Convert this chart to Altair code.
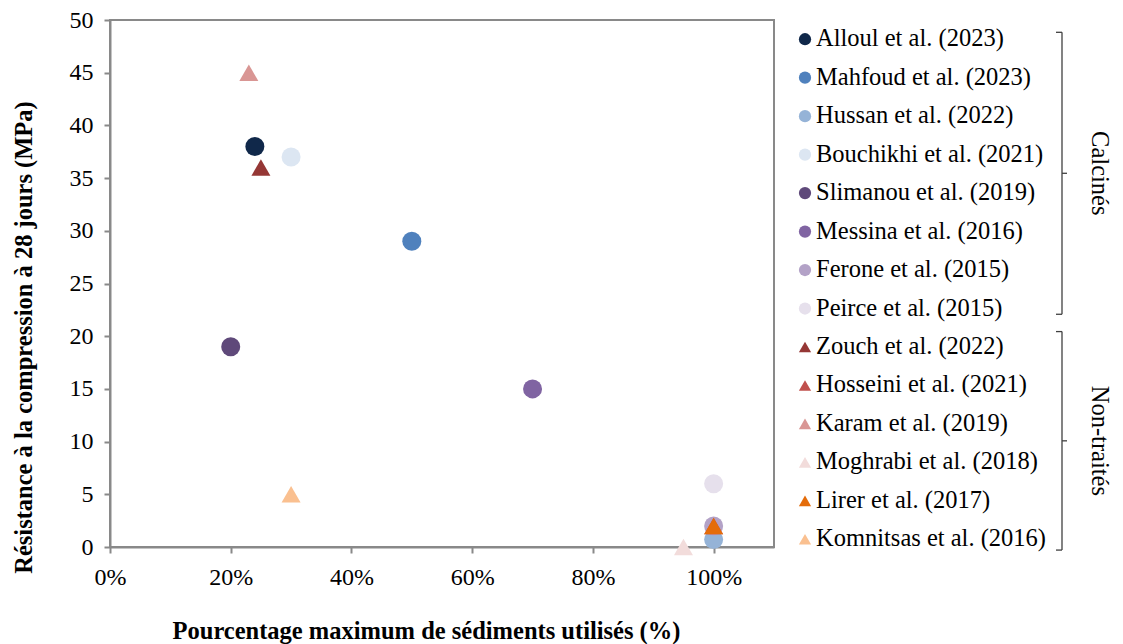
import altair as alt
import pandas as pd

studies = ["Alloul et al. (2023)", "Mahfoud et al. (2023)", "Hussan et al. (2022)",
           "Bouchikhi et al. (2021)", "Slimanou et al. (2019)", "Messina et al. (2016)",
           "Ferone et al. (2015)", "Peirce et al. (2015)", "Zouch et al. (2022)",
           "Hosseini et al. (2021)", "Karam et al. (2019)", "Moghrabi et al. (2018)",
           "Lirer et al. (2017)", "Komnitsas et al. (2016)"]
pct = [0.24, 0.50, 1.00, 0.30, 0.20, 0.70, 1.00, 1.00, 0.25, 1.00, 0.23, 0.95, 1.00, 0.30]
mpa = [38, 29, 0.7, 37, 19, 15, 2, 6, 36, 2, 45, 0, 2, 5]
groups = ["Calcinés"] * 8 + ["Non-traités"] * 6
colors = ["#10284A", "#4F81BD", "#95B3D7", "#DCE6F2", "#5F497A", "#8064A2", "#B3A2C7",
          "#E6E0EC", "#953735", "#C0504D", "#D99694", "#F2DCDB", "#E46C0A", "#FAC090"]
shapes = ["circle" if g == "Calcinés" else "triangle-up" for g in groups]

df = pd.DataFrame({"study": studies, "pct": pct, "mpa": mpa, "group": groups,
                   "row": list(range(len(studies)))})

FONT = "Liberation Serif"
GRAY = "#898989"

color_scale = alt.Scale(domain=studies, range=colors)
shape_scale = alt.Scale(domain=studies, range=shapes)

main = alt.Chart(df).mark_point(filled=True, opacity=1, size=361).encode(
    x=alt.X("pct:Q", scale=alt.Scale(domain=[0, 1.1], nice=False),
            axis=alt.Axis(values=[0, 0.2, 0.4, 0.6, 0.8, 1.0], format=".0%",
                          title="Pourcentage maximum de sédiments utilisés (%)",
                          labelFlush=False, labelPadding=12, titlePadding=30,
                          titleX=316)),
    y=alt.Y("mpa:Q", scale=alt.Scale(domain=[0, 50], nice=False),
            axis=alt.Axis(values=list(range(0, 51, 5)),
                          title="Résistance à la compression à 28 jours (MPa)",
                          labelFlush=False, labelPadding=11, titlePadding=33,
                          titleY=317)),
    color=alt.Color("study:N", scale=color_scale, legend=None),
    shape=alt.Shape("study:N", scale=shape_scale, legend=None),
    order=alt.Order("row:Q"),
).properties(width=664, height=527)

# legend panel
ly = alt.Scale(domain=[-0.5, 13.2], reverse=True, nice=False, zero=False)
lx = alt.Scale(domain=[0, 30], nice=False, zero=False)

leg_sym = alt.Chart(df).mark_point(filled=True, opacity=1, size=150).encode(
    x=alt.datum(1.0, scale=lx, axis=None),
    y=alt.Y("row:Q", scale=ly, axis=None),
    color=alt.Color("study:N", scale=color_scale, legend=None),
    shape=alt.Shape("study:N", scale=shape_scale, legend=None),
)
leg_txt = alt.Chart(df).mark_text(align="left", baseline="middle", font=FONT,
                                  fontSize=24.5, color="#000000", dx=11).encode(
    x=alt.datum(1.0, scale=lx, axis=None),
    y=alt.Y("row:Q", scale=ly, axis=None),
    text="study:N",
)

group_names = ["Calcinés", "Non-traités"]
g_start = [df[df.group == g].row.min() for g in group_names]
g_end = [df[df.group == g].row.max() for g in group_names]
br = pd.DataFrame({"group": group_names,
                   "top": [g_start[0] - 0.18, g_start[1] - 0.4],
                   "bot": [g_end[0] + 0.15, g_end[1] + 0.28]})
br["mid"] = (br["top"] + br["bot"]) / 2

vert = alt.Chart(br).mark_rule(color="#404040", strokeWidth=1.3).encode(
    x=alt.datum(26.7, scale=lx, axis=None), y=alt.Y("top:Q", scale=ly, axis=None), y2="bot:Q")
topt = alt.Chart(br).mark_rule(color="#404040", strokeWidth=1.3).encode(
    x=alt.datum(26.1, scale=lx, axis=None), x2=alt.datum(26.7),
    y=alt.Y("top:Q", scale=ly, axis=None))
bott = alt.Chart(br).mark_rule(color="#404040", strokeWidth=1.3).encode(
    x=alt.datum(26.1, scale=lx, axis=None), x2=alt.datum(26.7),
    y=alt.Y("bot:Q", scale=ly, axis=None))
midt = alt.Chart(br).mark_rule(color="#404040", strokeWidth=1.3).encode(
    x=alt.datum(26.7, scale=lx, axis=None), x2=alt.datum(27.2),
    y=alt.Y("mid:Q", scale=ly, axis=None))
gtxt = alt.Chart(br).mark_text(angle=90, align="center", baseline="middle", font=FONT,
                               fontSize=24.5, color="#000000").encode(
    x=alt.datum(30.4, scale=lx, axis=None), y=alt.Y("mid:Q", scale=ly, axis=None),
    text="group:N")

legend = alt.layer(leg_sym, leg_txt, vert, topt, bott, midt, gtxt).properties(
    width=300, height=527, view=alt.ViewBackground(stroke=None))

chart = alt.hconcat(main, legend, spacing=20).resolve_scale(
    x="independent", y="independent"
).properties(
    padding={"left": 2, "top": -1, "right": 0, "bottom": 0}
).configure_view(stroke=GRAY, strokeWidth=2).configure_axis(
    grid=False, domainColor=GRAY, domainWidth=2, tickColor=GRAY, tickWidth=2, tickSize=6,
    labelFont=FONT, labelFontSize=24, labelColor="#000000",
    titleFont=FONT, titleFontSize=24.5, titleFontWeight="bold", titleColor="#000000",
)

chart.save("out.html", embed_options={"renderer": "svg", "actions": False})
